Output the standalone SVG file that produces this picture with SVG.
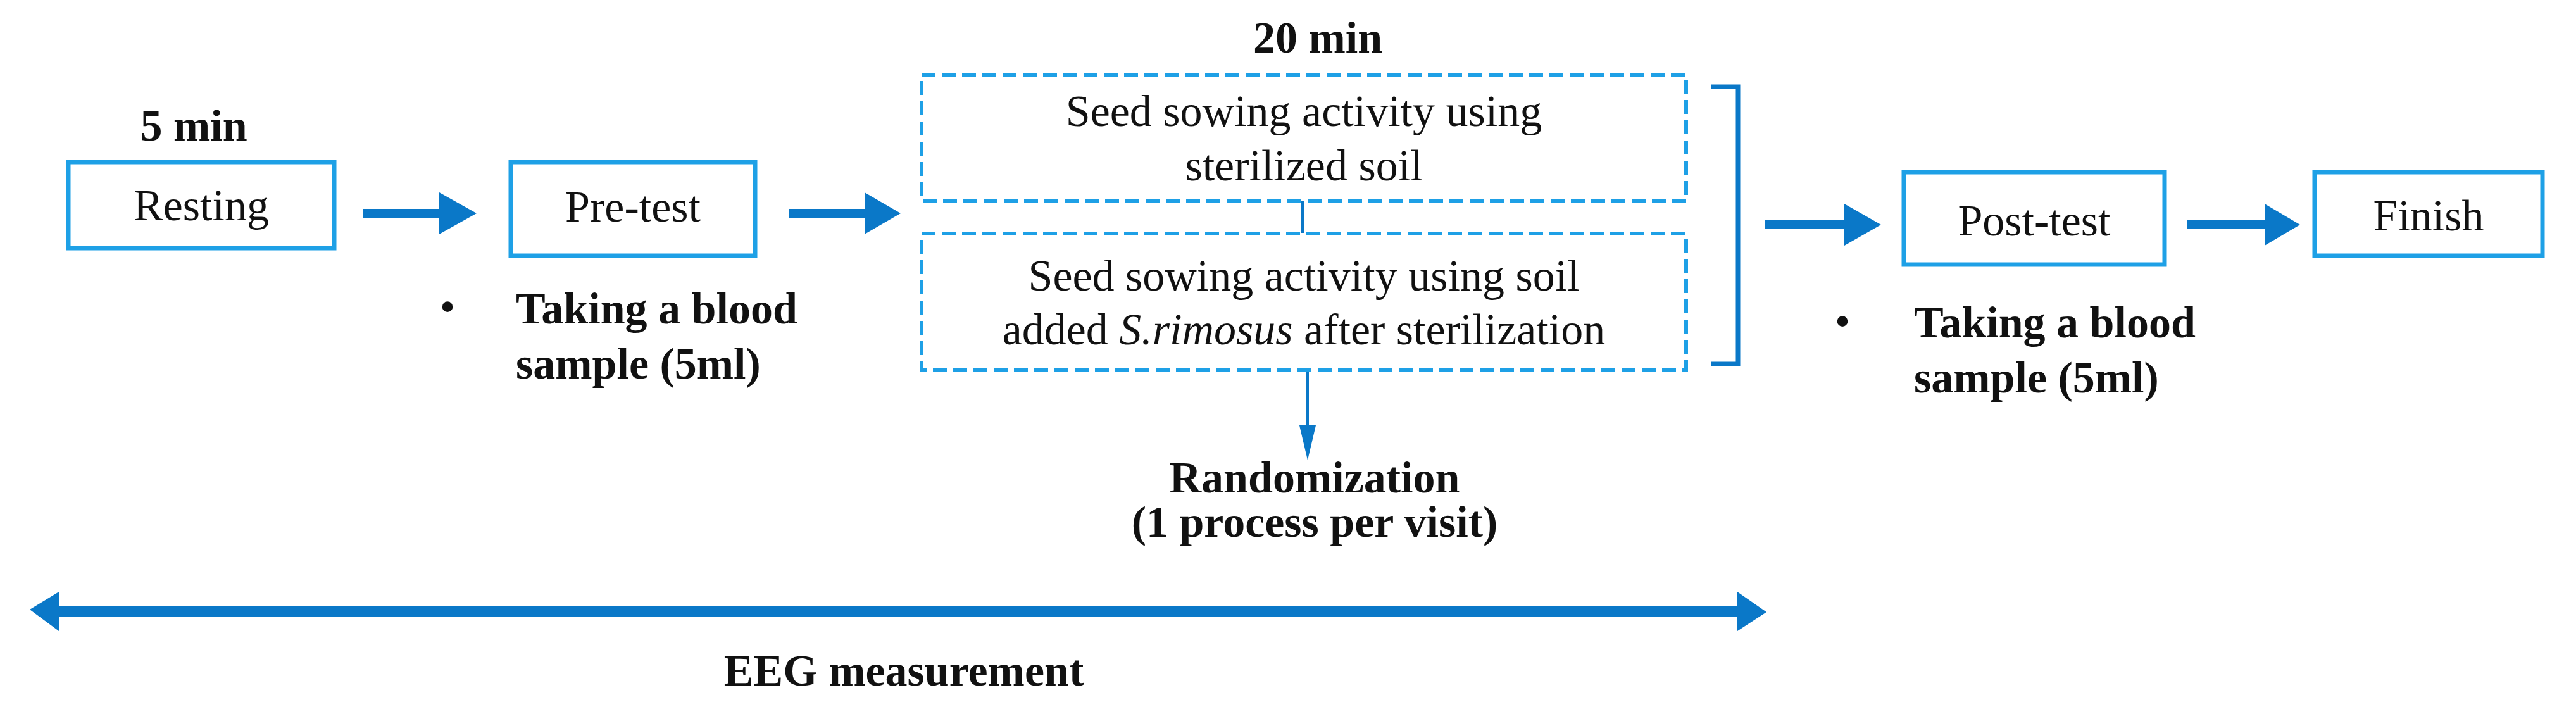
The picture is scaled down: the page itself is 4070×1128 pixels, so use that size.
<svg xmlns="http://www.w3.org/2000/svg" width="4070" height="1128" viewBox="0 0 4070 1128">
<style>
.box{fill:#fff;stroke:#1ea0e6;stroke-width:7}
.dash{fill:none;stroke:#1ea0e6;stroke-width:6;stroke-dasharray:22 10}
.t{font-family:"Liberation Serif",serif;font-size:70px;fill:#111}
.b{font-weight:bold}
.ar{fill:#0a78c8}
.ln{stroke:#0a78c8;fill:none}
</style>
<rect width="4070" height="1128" fill="#fff"/>
<g id="connectors">
<path class="ar" d="M574,330h120v-26l59,33l-59,33v-26h-120z"/>
<path class="ar" d="M1246,330h120v-26l57,33l-57,33v-26h-120z"/>
<path class="ar" d="M2788,348h126v-26l58,33l-58,33v-26h-126z"/>
<path class="ar" d="M3456,348h122v-26l56,33l-56,33v-26h-122z"/>
<line class="ln" x1="2058" y1="318" x2="2058" y2="368" stroke-width="4"/>
<line class="ln" x1="2066" y1="585" x2="2066" y2="680" stroke-width="4"/>
<path class="ar" d="M2053,672h26l-13,55z"/>
<path class="ln" d="M2703,137h43v438h-43" stroke-width="7"/>
<path class="ar" d="M47,963l46,-28v22h2652v-22l46,32l-46,30v-22h-2652v22z"/>
</g>
<g id="resting"><rect class="box" x="108" y="256" width="420" height="136"/><text class="t" x="318" y="348" text-anchor="middle">Resting</text></g>
<text class="t b" x="306" y="222" text-anchor="middle">5 min</text>
<g id="pretest"><rect class="box" x="807" y="256" width="386" height="148"/><text class="t" x="1000" y="350" text-anchor="middle">Pre-test</text></g>
<g id="blood1"><text class="t" x="707" y="508" text-anchor="middle">•</text><text class="t b" x="815" y="511">Taking a blood</text><text class="t b" x="815" y="598">sample (5ml)</text></g>
<text class="t b" x="2082" y="83" text-anchor="middle">20 min</text>
<g id="sow1"><rect class="dash" x="1456" y="118" width="1208" height="200"/><text class="t" x="2060" y="199" text-anchor="middle">Seed sowing activity using</text><text class="t" x="2060" y="285" text-anchor="middle">sterilized soil</text></g>
<g id="sow2"><rect class="dash" x="1456" y="369" width="1208" height="216"/><text class="t" x="2060" y="459" text-anchor="middle">Seed sowing activity using soil</text><text class="t" x="2060" y="544" text-anchor="middle">added <tspan font-style="italic">S.rimosus</tspan>  after sterilization</text></g>
<g id="randomization"><text class="t b" x="2077" y="778" text-anchor="middle" font-size="62">Randomization</text><text class="t b" x="2077" y="848" text-anchor="middle" font-size="62">(1 process per visit)</text></g>
<g id="posttest"><rect class="box" x="3008" y="272" width="412" height="146"/><text class="t" x="3214" y="372" text-anchor="middle">Post-test</text></g>
<g id="finish"><rect class="box" x="3657" y="272" width="360" height="132"/><text class="t" x="3837" y="364" text-anchor="middle">Finish</text></g>
<g id="blood2"><text class="t" x="2911" y="531" text-anchor="middle">•</text><text class="t b" x="3024" y="533">Taking a blood</text><text class="t b" x="3024" y="620">sample (5ml)</text></g>
<text class="t b" x="1428" y="1083" text-anchor="middle">EEG measurement</text>
</svg>
